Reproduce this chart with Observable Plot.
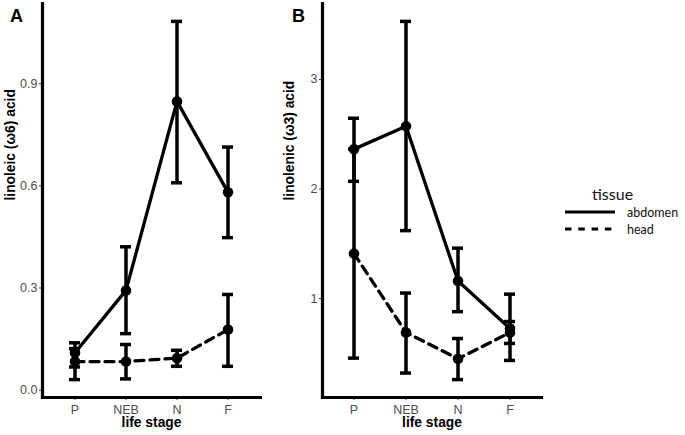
<!DOCTYPE html>
<html>
<head>
<meta charset="utf-8">
<script src="https://cdn.jsdelivr.net/npm/d3@7"></script>
<script src="https://cdn.jsdelivr.net/npm/@observablehq/plot@0.6"></script>
<style>
  html, body { margin: 0; padding: 0; background: #fff; }
  #wrap { position: relative; width: 685px; height: 435px; background: #fff; overflow: hidden; }
  #wrap > svg { position: absolute; top: 0; }
</style>
</head>
<body>
<div id="wrap"></div>
<script>
// ---- data ----
const stages = ["P", "NEB", "N", "F"];
const tissues = ["abdomen", "head"];

// Panel A: linoleic (ω6) acid
const aAbdMean = [0.110, 0.293, 0.848, 0.581];
const aAbdLo   = [0.068, 0.166, 0.609, 0.448];
const aAbdHi   = [0.139, 0.421, 1.083, 0.714];
const aHeadMean = [0.084, 0.084, 0.094, 0.178];
const aHeadLo   = [0.031, 0.033, 0.070, 0.070];
const aHeadHi   = [0.122, 0.134, 0.117, 0.281];
const aTicks = [0, 0.3, 0.6, 0.9];

// Panel B: linolenic (ω3) acid
const bAbdMean = [2.364, 2.573, 1.160, 0.727];
const bAbdLo   = [2.070, 1.620, 0.880, 0.590];
const bAbdHi   = [2.646, 3.530, 1.460, 0.790];
const bHeadMean = [1.410, 0.690, 0.450, 0.690];
const bHeadLo   = [0.456, 0.320, 0.260, 0.435];
const bHeadHi   = [2.364, 1.050, 0.635, 1.040];
const bTicks = [1, 2, 3];

const panelLabels = ["A", "B"];
const yTitles = ["linoleic (ω6) acid", "linolenic (ω3) acid"];
const xTitle = "life stage";
const legendTitle = "tissue";

function rowsOf(tissue, mean, lo, hi) {
  return stages.map((s, i) => ({stage: s, tissue, mean: mean[i], lo: lo[i], hi: hi[i]}));
}

const FONT = "'Liberation Sans', Arial, Helvetica, sans-serif";

function panel({abd, head, ticks, fmt, yTitle, width, marginLeft, marginRight, titleDx}) {
  const all = abd.concat(head);
  const lo = d3.min(all, d => d.lo), hi = d3.max(all, d => d.hi);
  const pad = (hi - lo) * 0.05;
  const capOpts = {x: "stage", stroke: "black", strokeWidth: 3.5};
  return Plot.plot({
    width, height: 435,
    marginTop: 3, marginBottom: 38, marginLeft, marginRight,
    style: {fontFamily: FONT, fontSize: "12.5px", background: "transparent", overflow: "visible"},
    x: {type: "band", domain: stages, paddingInner: 0.79, paddingOuter: 0.495, label: null},
    y: {domain: [lo - pad, hi + pad], label: null},
    marks: [
      Plot.axisX({tickSize: 3, tickPadding: 4.5, fontSize: 12.5, fill: "#4D4D4D", stroke: "#333333", label: null}),
      Plot.axisY({ticks, tickFormat: fmt, tickSize: 3, tickPadding: 2, fontSize: 12.5, fill: "#4D4D4D", stroke: "#333333", label: null}),
      Plot.line(abd, {x: "stage", y: "mean", stroke: "black", strokeWidth: 3.3}),
      Plot.line(head, {x: "stage", y: "mean", stroke: "black", strokeWidth: 3.3, strokeDasharray: "9,6"}),
      Plot.ruleX(all, {x: "stage", y1: "lo", y2: "hi", stroke: "black", strokeWidth: 3.5}),
      Plot.tickY(all, {...capOpts, y: "lo"}),
      Plot.tickY(all, {...capOpts, y: "hi"}),
      Plot.dot(all, {x: "stage", y: "mean", r: 5.3, fill: "black", stroke: "none"}),
      Plot.frame({anchor: "left", stroke: "black", strokeWidth: 3.2}),
      Plot.frame({anchor: "bottom", stroke: "black", strokeWidth: 3.2}),
      Plot.text([yTitle], {frameAnchor: "left", dx: titleDx, rotate: -90, fontWeight: "bold", fontSize: 13.8, fill: "black"}),
      Plot.text([xTitle], {frameAnchor: "bottom", dy: 29, fontWeight: "bold", fontSize: 13.8, fill: "black"})
    ]
  });
}

const wrap = document.getElementById("wrap");

const plotA = panel({
  abd: rowsOf("abdomen", aAbdMean, aAbdLo, aAbdHi),
  head: rowsOf("head", aHeadMean, aHeadLo, aHeadHi),
  ticks: aTicks, fmt: d3.format(".1f"), yTitle: yTitles[0],
  width: 270, marginLeft: 42, marginRight: 10, titleDx: -32
});
plotA.style.left = "0px";
plotA.style.position = "absolute";
wrap.appendChild(plotA);

const plotB = panel({
  abd: rowsOf("abdomen", bAbdMean, bAbdLo, bAbdHi),
  head: rowsOf("head", bHeadMean, bHeadLo, bHeadHi),
  ticks: bTicks, fmt: d3.format("d"), yTitle: yTitles[1],
  width: 272, marginLeft: 52, marginRight: 1, titleDx: -33
});
plotB.style.left = "270px";
plotB.style.position = "absolute";
wrap.appendChild(plotB);

// overlay: panel labels and legend
const ov = d3.select(wrap).append("svg")
  .attr("width", 685).attr("height", 435)
  .style("left", "0px").style("pointer-events", "none");

ov.selectAll("text.plab").data(panelLabels).join("text")
  .attr("class", "plab")
  .attr("x", (d, i) => i === 0 ? 10 : 292)
  .attr("y", 22)
  .attr("font-family", FONT).attr("font-weight", "bold").attr("font-size", 18)
  .text(d => d);

const LFONT = "Lato, 'Open Sans', sans-serif";
const leg = ov.append("g").attr("transform", "translate(540,0)");
leg.append("text").attr("x", 52).attr("y", 200)
  .attr("font-family", LFONT).attr("font-size", 16).attr("fill", "#111").text(legendTitle);
const keyY = [212, 229];
const dashes = [null, "6.5,6.8"];
tissues.forEach((t, i) => {
  leg.append("line").attr("x1", 25).attr("x2", 75).attr("y1", keyY[i]).attr("y2", keyY[i])
    .attr("stroke", "black").attr("stroke-width", 3)
    .attr("stroke-dasharray", dashes[i]);
  leg.append("text").attr("x", 87).attr("y", keyY[i] + 5)
    .attr("font-family", LFONT).attr("font-size", 12.5).attr("fill", "#111").text(t);
});
</script>
</body>
</html>
